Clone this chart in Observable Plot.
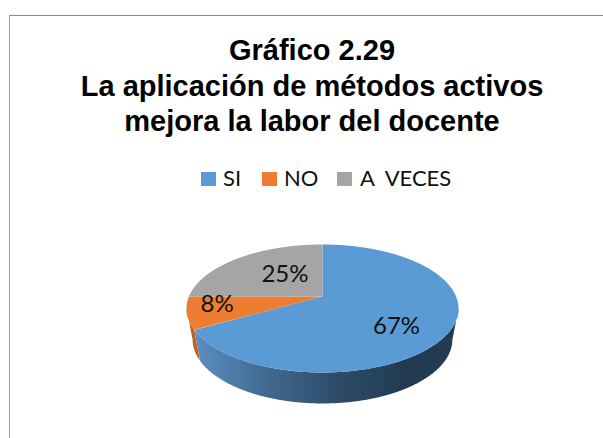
<!DOCTYPE html>
<html>
<head>
<meta charset="utf-8">
<script src="https://cdn.jsdelivr.net/npm/d3@7"></script>
<script src="https://cdn.jsdelivr.net/npm/@observablehq/plot@0.6"></script>
<style>
html,body{margin:0;padding:0;background:#fff;overflow:hidden}
#page{position:relative;width:603px;height:438px;overflow:hidden}
#frame{position:absolute;left:9px;top:15px;width:594px;height:423px;border-left:1.5px solid #a0a0a0;border-top:1.5px solid #8c8c8c;box-sizing:border-box}
#title{position:absolute;left:0;top:33px;width:624px;text-align:center;font:bold 29px/35.5px "Liberation Sans",Arial,sans-serif;color:#000}
#legend{position:absolute;left:0;top:165px;height:26px;font:22px/26px Lato,"Noto Sans",sans-serif;color:#111}
#legend span{position:absolute;white-space:pre;top:0}
#legend i{position:absolute;top:7px;width:15px;height:14px}
#chart{position:absolute;left:0;top:200px}
</style>
</head>
<body>
<div id="page">
<div id="frame"></div>
<div id="title"></div>
<div id="legend"></div>
<div id="chart"></div>
</div>
<script>
const titleLines = ["Gráfico 2.29", "La aplicación de métodos activos", "mejora la labor del docente"];
const categories = ["SI", "NO", "A VECES"];
const values = [67, 8, 25];
const colors = ["#5B9BD5", "#ED7D31", "#A5A5A5"];
const labels = ["67%", "8%", "25%"];
const legendTextX = [223, 284, 360];
const legendSwatchX = [201, 261.5, 337];
const labelOffsets = [[-2, 9], [-24, -2], [12, 1]];

document.getElementById("title").innerHTML = titleLines.join("<br>");
const legend = document.getElementById("legend");
categories.forEach((c, i) => {
  const sw = document.createElement("i");
  sw.style.left = legendSwatchX[i] + "px";
  sw.style.background = colors[i];
  legend.appendChild(sw);
  const t = document.createElement("span");
  t.style.left = legendTextX[i] + "px";
  t.textContent = c.replace(" ", "  ");
  legend.appendChild(t);
});

// Tilted-disc geometry: rays leave an apex above the ellipse centre, as in the perspective of the picture
const apexY = 0.1875, depth = 0.484, bottomScale = 0.955;
const rim = (deg) => {
  const a = deg * Math.PI / 180, dx = Math.sin(a), dy = Math.cos(a);
  const b = apexY * dy;
  const t = -b + Math.sqrt(b * b - (apexY * apexY - 1));
  return {x: dx * t, y: apexY + dy * t};
};
const total = d3.sum(values);
let acc = 0;
const slices = categories.map((c, i) => {
  const start = acc / total * 360;
  acc += values[i];
  return {c, i, start, end: acc / total * 360};
});
const steps = (s) => d3.range(s.start, s.end + 0.001, 0.25);
const topFace = slices.flatMap((s) => [
  {x: 0, y: apexY, k: s.c},
  ...steps(s).map((d) => ({...rim(d), k: s.c}))
]);
const wall = (s) => {
  const p = steps(s).map(rim).filter((d) => d.y <= 0);
  const low = p.map((d) => ({x: d.x * bottomScale, y: d.y - depth})).reverse();
  return [...p, ...low];
};
const labelMarks = slices.map((s) => {
  const m = (s.start + s.end) / 2, r = rim(m);
  const at = {x: r.x * 0.6, y: apexY + (r.y - apexY) * 0.6};
  return Plot.text([labels[s.i]], {
    x: () => at.x, y: () => at.y,
    text: (d) => d, dx: labelOffsets[s.i][0], dy: labelOffsets[s.i][1],
    fontSize: 24, fontFamily: "Lato, 'Noto Sans', sans-serif", fill: "#111"
  });
});
const defs = () => {
  const svg = d3.create("svg:defs");
  const g = svg.append("linearGradient").attr("id", "wallBlue").attr("x1", 0).attr("x2", 1).attr("y1", 0).attr("y2", 0);
  [[0, "#5b8fc3"], [0.3, "#3f668c"], [0.55, "#2d4b68"], [0.8, "#223b52"], [1, "#223b52"]]
    .forEach(([o, c]) => g.append("stop").attr("offset", o).attr("stop-color", c));
  return svg.node();
};
const plot = Plot.plot({
  width: 603, height: 238,
  marginTop: 0, marginRight: 0, marginBottom: 0, marginLeft: 0,
  x: {domain: [-1, 1], range: [186, 458], axis: null},
  y: {domain: [-1, 1], range: [172, 44], axis: null},
  marks: [
    defs,
    Plot.line(wall(slices[1]), {x: "x", y: "y", fill: "#c0621f", stroke: "none"}),
    Plot.line(wall(slices[0]), {x: "x", y: "y", fill: "url(#wallBlue)", stroke: "none"}),
    ...slices.map((s) => Plot.line(topFace.filter((d) => d.k === s.c), {
      x: "x", y: "y", fill: colors[s.i], stroke: "none"
    })),
    ...labelMarks
  ]
});
document.getElementById("chart").appendChild(plot);
</script>
</body>
</html>
